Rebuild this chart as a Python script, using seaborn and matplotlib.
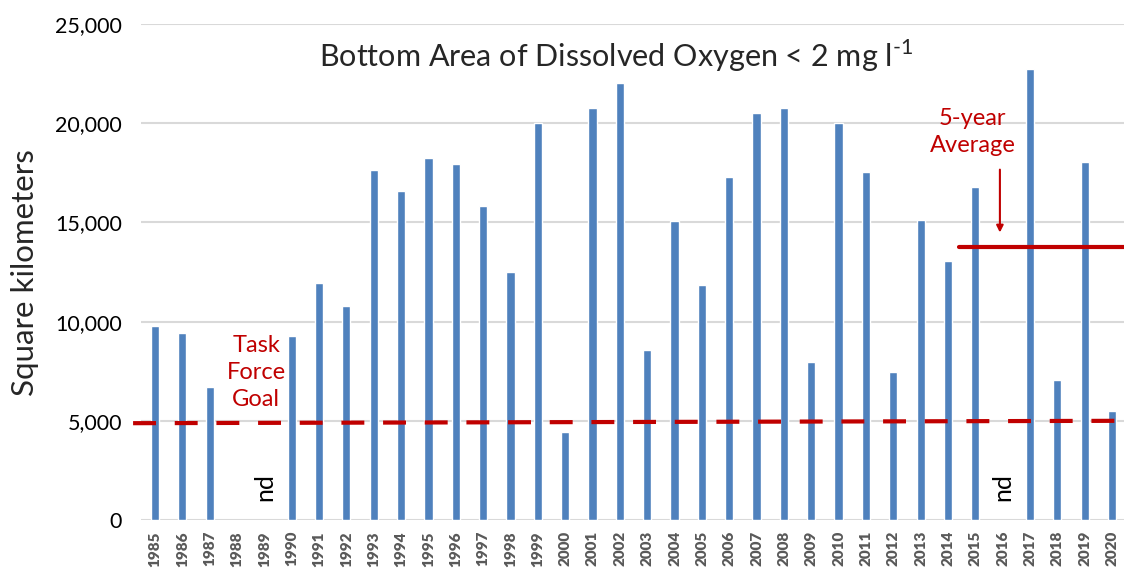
import matplotlib
matplotlib.use("Agg")
import matplotlib.pyplot as plt
import matplotlib.ticker as mticker
import seaborn as sns
import numpy as np
import pandas as pd

# hypoxic bottom area per year (nan = no data)
years = [str(y) for y in range(1985, 2021)]
area_km2 = [9770, 9425, 6700, np.nan, np.nan, 9270, 11950, 10790, 17640, 16580,
            18240, 17940, 15830, 12500, 20000, 4430, 20770, 22020, 8570, 15070,
            11840, 17290, 20510, 20760, 7960, 20010, 17540, 7460, 15120, 13050,
            16780, np.nan, 22730, 7050, 18040, 5490]
no_data_years = ["1989", "2016"]
goal_km2 = [4880, 5000]          # task force goal line, start and end
five_year_avg = 13760

BLUE = "#4F81BD"
RED = "#C00000"

sns.set_theme(style="white")
plt.rcParams["font.family"] = ["Lato", "DejaVu Sans"]
plt.rcParams["mathtext.fontset"] = "custom"
plt.rcParams["mathtext.rm"] = "Lato"

df = pd.DataFrame({"year": years, "area": area_km2})

fig = plt.figure(figsize=(11.24, 5.73), dpi=100)
ax = fig.add_axes([0.1257, 0.0925, 0.8758, 0.8656])

sns.barplot(data=df, x="year", y="area", order=years, color=BLUE,
            width=0.3, saturation=1, ax=ax)

ax.set_ylim(0, 25000)
ax.set_xlim(-0.5, len(years) - 0.5)
ax.yaxis.set_major_locator(mticker.MultipleLocator(5000))
ax.yaxis.set_major_formatter(mticker.StrMethodFormatter("{x:,.0f}"))
ax.grid(axis="y", color="#D9D9D9", linewidth=1.5)
ax.set_axisbelow(True)
for s in ax.spines.values():
    s.set_visible(False)
ax.tick_params(axis="both", length=0)
ax.tick_params(axis="y", labelsize=15.5, pad=14, labelcolor="black")
ax.set_xlabel("")
ax.set_ylabel("")
plt.setp(ax.get_xticklabels(), rotation=90, fontsize=11, fontweight="heavy",
         color="#595959")
ax.tick_params(axis="x", pad=8)

fig.text(0.022, 0.524, "Square kilometers", rotation=90, fontsize=22.5,
         ha="center", va="center")

ax.text(0.482, 0.935, r"Bottom Area of Dissolved Oxygen < 2 mg l$^{\text{-1}}$",
        transform=ax.transAxes, ha="center", va="center", fontsize=22)

# task force goal (dashed)
ax.plot([-0.8, len(years) - 0.55], goal_km2, color=RED, linewidth=3,
        dashes=(5.5, 4.5), clip_on=False, zorder=3)
ax.text(years.index("1989") - 0.3, 7450, "Task\nForce\nGoal", color=RED,
        fontsize=17, ha="center", va="center", linespacing=1.35)

# five-year average
ax.plot([years.index("2014") + 0.4, len(years) - 0.5],
        [five_year_avg, five_year_avg], color=RED, linewidth=3, zorder=3)
ax.text(years.index("2015") - 0.1, 19550, "5-year\nAverage", color=RED,
        fontsize=17, ha="center", va="center", linespacing=1.35)
ax.annotate("", xy=(years.index("2016") - 0.1, 14350),
            xytext=(years.index("2016") - 0.1, 17800),
            arrowprops=dict(arrowstyle="-|>", color=RED, lw=1.5,
                            mutation_scale=10))

for yr in no_data_years:
    ax.text(years.index(yr), 1650, "nd", rotation=90, fontsize=18,
            ha="center", va="center", color="black")

fig.savefig("out.png", dpi=100)
